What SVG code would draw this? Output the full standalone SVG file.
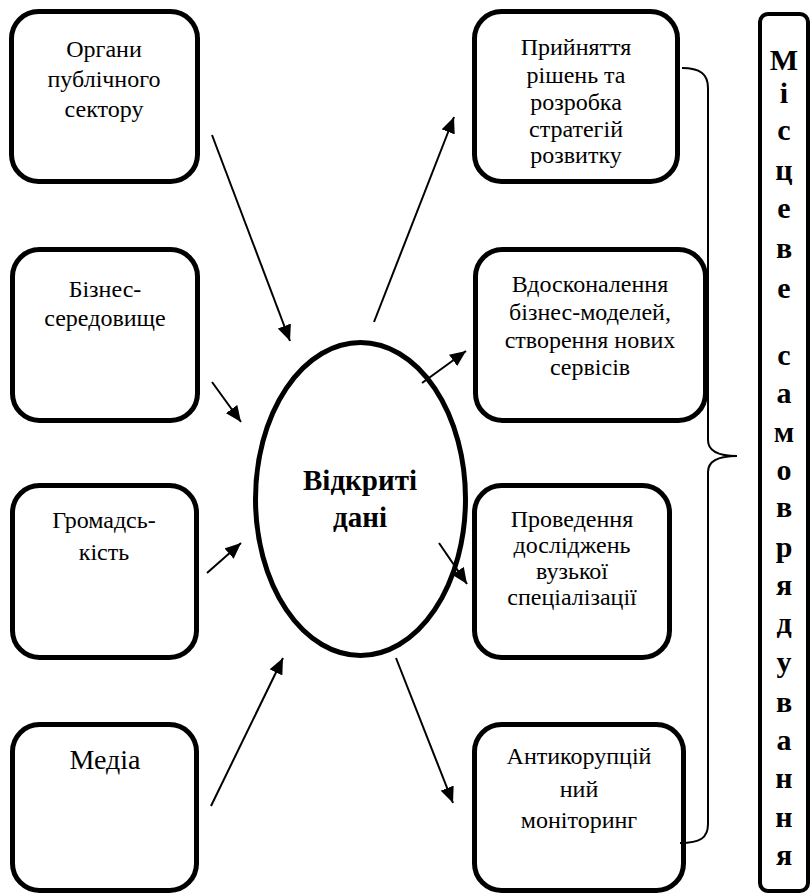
<svg xmlns="http://www.w3.org/2000/svg" width="811" height="896" viewBox="0 0 811 896">
<style>
.box{fill:#fff;stroke:#000;stroke-width:5}
.c{stroke:#000;stroke-width:2;fill:none}
</style>
<defs>
<marker id="ah" viewBox="0 0 16 14" refX="16" refY="7" markerWidth="16" markerHeight="14" markerUnits="userSpaceOnUse" orient="auto">
<path d="M0,0 L16,7 L0,14 z" fill="#000"/>
</marker>
</defs>
<rect width="811" height="896" fill="#fff"/>
<g font-family="Liberation Serif, Times New Roman, serif" font-size="24" text-anchor="middle" fill="#000">

<g id="node-organy">
<rect class="box" x="11.5" y="11.5" width="186" height="170" rx="27"/>
<text x="104" y="57">Органи</text>
<text x="104" y="87">публічного</text>
<text x="104" y="117">сектору</text>
</g>
<g id="node-biznes">
<rect class="box" x="12.5" y="249.5" width="185" height="171" rx="27"/>
<text x="105" y="297">Бізнес-</text>
<text x="105" y="326">середовище</text>
</g>
<g id="node-hromadskist">
<rect class="box" x="12.5" y="485.5" width="184" height="172" rx="27"/>
<text x="104" y="528">Громадсь-</text>
<text x="104" y="560">кість</text>
</g>
<g id="node-media">
<rect class="box" x="12.5" y="724.5" width="184" height="166" rx="27"/>
<text x="105" y="769" font-size="28">Медіа</text>
</g>

<g id="node-open-data" font-weight="bold" font-size="29">
<ellipse cx="360.5" cy="499" rx="105" ry="156.5" fill="#fff" stroke="#000" stroke-width="5"/>
<text x="360" y="490">Відкриті</text>
<text x="360" y="527">дані</text>
</g>

<g id="node-rishennia">
<rect class="box" x="474.5" y="11.5" width="203" height="170" rx="27"/>
<text x="576" y="55">Прийняття</text>
<text x="576" y="83">рішень та</text>
<text x="576" y="110">розробка</text>
<text x="576" y="137">стратегій</text>
<text x="576" y="163">розвитку</text>
</g>
<g id="node-vdoskonalennia">
<rect class="box" x="475.5" y="249.5" width="230" height="171" rx="27"/>
<text x="590" y="292">Вдосконалення</text>
<text x="590" y="320">бізнес-моделей,</text>
<text x="590" y="348">створення нових</text>
<text x="590" y="375">сервісів</text>
</g>
<g id="node-doslidzhennia">
<rect class="box" x="474.5" y="485.5" width="195" height="172" rx="27"/>
<text x="572" y="527">Проведення</text>
<text x="572" y="553">досліджень</text>
<text x="572" y="579">вузької</text>
<text x="572" y="605">спеціалізації</text>
</g>
<g id="node-antykoruptsiia">
<rect class="box" x="474.5" y="724.5" width="209" height="166" rx="27"/>
<text x="579" y="764">Антикорупцій</text>
<text x="579" y="797">ний</text>
<text x="579" y="828">моніторинг</text>
</g>

<g id="node-mistseve" font-weight="bold" font-size="30">
<rect x="760" y="14" width="48" height="877" rx="8" fill="#fff" stroke="#000" stroke-width="4"/>
<text x="784" y="70">М</text>
<text x="784" y="103">і</text>
<text x="784" y="140">с</text>
<text x="784" y="180">ц</text>
<text x="784" y="218">е</text>
<text x="784" y="258">в</text>
<text x="784" y="298">е</text>
<text x="784" y="365">с</text>
<text x="784" y="403">а</text>
<text x="784" y="442">м</text>
<text x="784" y="480">о</text>
<text x="784" y="517">в</text>
<text x="784" y="557">р</text>
<text x="784" y="595">я</text>
<text x="784" y="633">д</text>
<text x="784" y="672">у</text>
<text x="784" y="712">в</text>
<text x="784" y="750">а</text>
<text x="784" y="788">н</text>
<text x="784" y="827">н</text>
<text x="784" y="865">я</text>
</g>
</g>

<g id="connectors">
<line class="c" x1="212" y1="135" x2="290" y2="341" marker-end="url(#ah)"/>
<line class="c" x1="212" y1="382" x2="241" y2="422" marker-end="url(#ah)"/>
<line class="c" x1="207" y1="573" x2="241" y2="543" marker-end="url(#ah)"/>
<line class="c" x1="211" y1="806" x2="283" y2="658" marker-end="url(#ah)"/>
<line class="c" x1="374" y1="322" x2="454" y2="117" marker-end="url(#ah)"/>
<line class="c" x1="422" y1="383" x2="466" y2="351" marker-end="url(#ah)"/>
<line class="c" x1="439" y1="543" x2="467" y2="584" marker-end="url(#ah)"/>
<line class="c" x1="396" y1="658" x2="453" y2="803" marker-end="url(#ah)"/>
<path class="c" d="M682,68 C700,68 708,74 708,88 L708,440 C708,452 720,456 737,456 C720,456 708,460 708,472 L708,824 C708,838 700,843 680,843"/>
</g>
</svg>
